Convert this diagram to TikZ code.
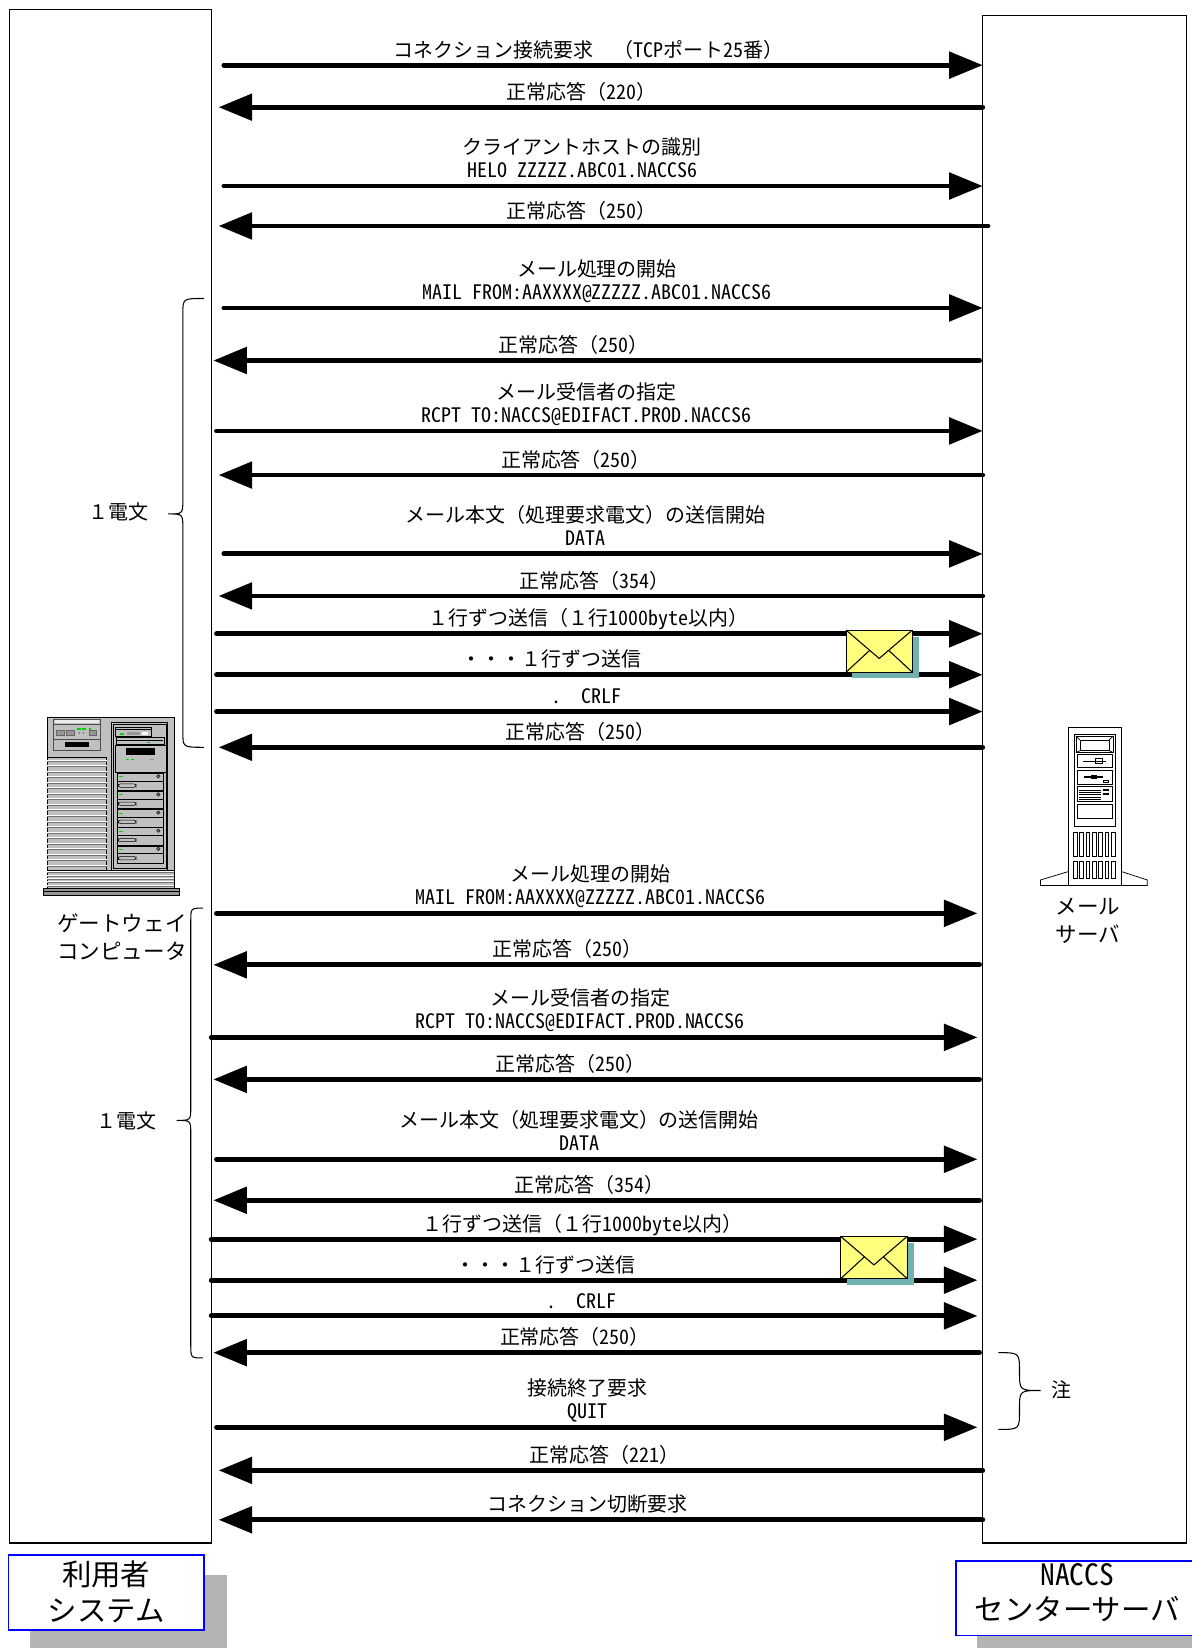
\documentclass[tikz,border=0pt]{standalone}
\usepackage{fontspec}
\setmainfont{Noto Sans CJK JP}
\newfontfamily\hwfont{Noto Sans CJK JP}[RawFeature=+hwid]
\usetikzlibrary{arrows.meta}
\newcommand\hw[1]{{\hwfont #1}}
\definecolor{srvgray}{RGB}{192,192,192}
\definecolor{srvdark}{RGB}{150,150,150}
\definecolor{envyellow}{RGB}{255,255,125}
\definecolor{envshadow}{RGB}{112,178,178}
\definecolor{lblshadow}{RGB}{180,180,180}
\definecolor{ledgreen}{RGB}{0,210,0}

% message with a one-line label: name, y, x from, x to, label x, text
\newcommand\msgA[6]{%
  \coordinate (#1a) at (#3,#2);
  \coordinate (#1b) at (#4,#2);
  \draw[msg] (#1a) -- (#1b);
  \node[lbl] (#1t) at (#5,#2-7.5) {#6};
}
% message with a two-line label
\newcommand\msgB[7]{%
  \coordinate (#1a) at (#3,#2);
  \coordinate (#1b) at (#4,#2);
  \draw[msg] (#1a) -- (#1b);
  \node[lbl] (#1t) at (#5,#2-30) {#6};
  \node[lbl] (#1u) at (#5,#2-8) {#7};
}
% curly brace: x of ends, x of stem, x of tip, y top, y tip, y bottom, radius
\newcommand\curly[7]{%
  \draw[brc] (#1,#4) .. controls (#2,#4) .. (#2,#4+#7) -- (#2,#5-#7)
    .. controls (#2,#5) .. (#3,#5) .. controls (#2,#5) .. (#2,#5+#7)
    -- (#2,#6-#7) .. controls (#2,#6) .. (#1,#6);
}
% envelope icon with its drop shadow, top-left corner given
\newcommand\envelope[2]{%
  \fill[envshadow] (#1+5.5,#2+6.5) rectangle (#1+69.5,#2+46);
  \filldraw[fill=envyellow, draw=black, line width=1pt] (#1,#2) rectangle (#1+63,#2+40);
  \draw[line width=1pt, line join=round] (#1,#2) -- (#1+31.5,#2+27) -- (#1+63,#2);
  \draw[line width=1pt] (#1,#2+40) -- (#1+22.5,#2+19.3);
  \draw[line width=1pt] (#1+63,#2+40) -- (#1+40.5,#2+19.3);
}

\begin{document}
\begin{tikzpicture}[x=1pt,y=-1pt,
  msg/.style={line width=4.6pt, line cap=round, -{Triangle[length=32pt,width=25pt]}},
  lbl/.style={anchor=base, inner sep=0pt, font=\fontsize{19}{22}\selectfont},
  lane/.style={draw, line width=1.2pt},
  brc/.style={line width=1pt},
  sidelbl/.style={inner sep=0pt, align=center, font=\fontsize{20.5}{27}\selectfont},
  boxlbl/.style={inner sep=0pt, align=center, font=\fontsize{28}{33.5}\selectfont},
  bluebox/.style={draw=blue, line width=1.4pt, fill=white},
  thin/.style={line width=0.5pt}]

\useasboundingbox (0,0) rectangle (1134,1568);
\fill[white] (0,0) rectangle (1134,1568);

% lanes
\draw[lane] (9,9) rectangle (201,1468);
\draw[lane] (935,15) rectangle (1129,1468);

% ---- connection and first message ----
\msgA{m1}{62}{213}{935}{560}{コネクション接続要求　（\hw{TCP}ポート\hw{25}番）}
\msgA{m2}{102}{935}{208}{553}{正常応答（\hw{220}）}
\msgB{m3}{177}{213}{935}{554}{クライアントホストの識別}{\hw{HELO ZZZZZ.ABC01.NACCS6}}
\msgA{m4}{215}{940}{208}{553}{正常応答（\hw{250}）}
\msgB{m5}{293}{213}{935}{568}{メール処理の開始}{\hw{MAIL FROM:AAXXXX@ZZZZZ.ABC01.NACCS6}}
\msgA{m6}{343}{932}{203}{546}{正常応答（\hw{250}）}
\msgB{m7}{410}{206}{935}{558}{メール受信者の指定}{\hw{RCPT TO:NACCS@EDIFACT.PROD.NACCS6}}
\msgA{m8}{452}{935}{208}{548}{正常応答（\hw{250}）}
\msgB{m9}{527}{213}{935}{557}{メール本文（処理要求電文）の送信開始}{\hw{DATA}}
\msgA{m10}{567}{935}{208}{566}{正常応答（\hw{354}）}
\msgA{m11}{603}{206}{935}{560}{１行ずつ送信（１行\hw{1000byte}以内）}
\msgA{m12}{642}{206}{935}{525}{・・・１行ずつ送信}
\msgA{m13}{677}{206}{935}{558}{\hw{.}　\hw{CRLF}}
\msgA{m14}{711}{935}{208}{552}{正常応答（\hw{250}）}
\envelope{805}{599.5}

% ---- second message and close ----
\msgB{n1}{869}{206}{930}{562}{メール処理の開始}{\hw{MAIL FROM:AAXXXX@ZZZZZ.ABC01.NACCS6}}
\msgA{n2}{918}{932}{203}{540}{正常応答（\hw{250}）}
\msgB{n3}{987}{201}{930}{552}{メール受信者の指定}{\hw{RCPT TO:NACCS@EDIFACT.PROD.NACCS6}}
\msgA{n4}{1027}{932}{203}{543}{正常応答（\hw{250}）}
\msgB{n5}{1103}{206}{930}{551}{メール本文（処理要求電文）の送信開始}{\hw{DATA}}
\msgA{n6}{1142}{932}{203}{561}{正常応答（\hw{354}）}
\msgA{n7}{1179}{201}{930}{554}{１行ずつ送信（１行\hw{1000byte}以内）}
\msgA{n8}{1218}{201}{930}{519}{・・・１行ずつ送信}
\msgA{n9}{1252}{201}{930}{553}{\hw{.}　\hw{CRLF}}
\msgA{n10}{1287}{932}{203}{547}{正常応答（\hw{250}）}
\msgB{n11}{1358}{206}{930}{559}{接続終了要求}{\hw{QUIT}}
\msgA{n12}{1399}{935}{208}{575}{正常応答（\hw{221}）}
\msgA{n13}{1446}{935}{208}{559}{コネクション切断要求}
\envelope{800}{1176.5}

% braces and their labels
\curly{194}{174}{160}{284}{489}{711}{14}
\node[lbl] (tel1) at (113,494) {１電文};
\curly{193}{181.5}{168}{864}{1066}{1292}{13}
\node[lbl] (tel2) at (120,1074) {１電文};
\curly{950}{970}{990}{1287}{1323}{1360}{18}
\node[lbl] (note) at (1010,1330) {注};

% ---- gateway computer ----
\begin{scope}[shift={(28.54,665.97)}, x=0.31713pt, y=-0.31713pt, thin]
  \filldraw[fill=srvdark] (40,565) rectangle (447,585);
  \draw (40,573) -- (447,573);
  \filldraw[fill=srvgray] (52,52) rectangle (433,565);
  % top-left unit
  \filldraw[fill=srvgray, draw=black!70] (70,58) rectangle (212,150);
  \draw[black!70] (70,72) -- (212,72);
  \draw[black!70] (70,118) -- (212,118);
  \fill[white!70!srvgray] (74,61) rectangle (208,69);
  \filldraw[fill=srvdark, draw=black!60] (80,92) rectangle (102,106);
  \filldraw[fill=srvdark, draw=black!60] (110,92) rectangle (132,106);
  \filldraw[fill=srvdark, draw=black!60] (178,92) rectangle (200,106);
  \fill[ledgreen] (140,85) rectangle (152,89);
  \fill[ledgreen] (157,85) rectangle (169,89);
  \fill[ledgreen] (176,85) rectangle (184,89);
  \fill (148,99) circle (1.6);
  \fill (160,99) circle (1.6);
  \fill (105,126) rectangle (178,140);
  % louvers
  \draw (52,172) -- (230,172) -- (230,512);
  \foreach \k in {0,...,19} {
    \draw[white] (52,180+16.6*\k) -- (230,180+16.6*\k);
    \draw[black!55] (52,183+16.6*\k) -- (230,183+16.6*\k);
  }
  \foreach \yy in {512,522,532,542,552} {
    \draw[white] (52,\yy+3) -- (433,\yy+3);
    \draw[black!55] (52,\yy+6) -- (433,\yy+6);
  }
  \draw (52,512) -- (433,512);
  % drive bays
  \filldraw[fill=srvgray] (245,68) rectangle (413,512);
  \draw (250,74) rectangle (408,506);
  \filldraw[fill=srvgray] (255,82) rectangle (365,110);
  \fill[ledgreen] (270,100) rectangle (282,104);
  \fill[srvdark] (292,95) rectangle (330,106);
  \fill[white] (335,96) rectangle (355,105);
  \draw (255,88) -- (365,88);
  \filldraw[fill=srvgray] (258,112) rectangle (402,134);
  \draw (262,122) -- (398,122);
  \fill[ledgreen] (350,126) rectangle (360,129);
  \filldraw[fill=srvgray] (255,136) rectangle (408,216);
  \fill (287,145) rectangle (375,166);
  \fill[ledgreen] (288,178) rectangle (298,181);
  \fill[ledgreen] (302,178) rectangle (312,181);
  \fill[srvdark] (360,178) rectangle (372,181);
  \foreach \k in {0,...,4} {
    \filldraw[fill=srvgray] (262,220+54.4*\k) rectangle (400,272+54.4*\k);
    \draw (262,243+54.4*\k) -- (400,243+54.4*\k);
    \fill[ledgreen] (268,229+54.4*\k) rectangle (278,232+54.4*\k);
    \filldraw[fill=srvdark] (385,229+54.4*\k) circle (5);
    \draw[rounded corners=2pt] (265,252+54.4*\k) rectangle (318,262+54.4*\k);
  }
\end{scope}
\node[sidelbl] (gw) at (116,891.5) {ゲートウェイ\\コンピュータ};

% ---- mail server ----
\begin{scope}[shift={(970.41,675.49)}, x=0.31713pt, y=-0.31713pt, line width=0.7pt]
  \filldraw[fill=white] (62,527) -- (62,510) -- (145,485) -- (305,485) -- (382,510) -- (382,527) -- cycle;
  \filldraw[fill=white] (145,52) rectangle (305,527);
  \draw (162,72) rectangle (287,348);
  \draw (168,78) rectangle (280,128);
  \draw (180,90) rectangle (268,122);
  \draw (168,78) -- (180,90) (280,78) -- (268,90) (168,128) -- (180,122) (280,128) -- (268,122);
  \draw (172,134) rectangle (276,172);
  \draw (190,153) -- (258,153);
  \draw (226,145) rectangle (246,161);
  \draw (172,180) rectangle (276,224);
  \draw[line width=1.6pt] (192,202) -- (248,202);
  \fill (212,196) rectangle (232,208);
  \draw (250,210) rectangle (266,216);
  \draw (172,230) rectangle (276,274);
  \foreach \yy in {240,247,254,261,268} \draw (178,\yy) -- (244,\yy);
  \fill (250,236) rectangle (266,242);
  \fill (250,248) rectangle (266,254);
  \draw (172,282) rectangle (276,326);
  \foreach \i in {0,...,6} {
    \draw (160+19*\i,367) rectangle (171+19*\i,440);
    \draw (160+19*\i,455) rectangle (171+19*\i,505);
  }
\end{scope}
\node[sidelbl] (ms) at (1035,876) {メール\\サーバ};

% ---- system labels ----
\fill[lblshadow] (28.5,1499) rectangle (215.7,1570);
\draw[bluebox] (8,1479.5) rectangle (194,1551);
\node[boxlbl] (usr) at (101,1514.5) {利用者\\システム};
\fill[lblshadow] (930,1505) rectangle (1150,1580);
\draw[bluebox] (909.5,1485) rectangle (1150,1556);
\node[boxlbl] (ctr) at (1025,1515) {\hw{NACCS}\\センターサーバ};

\end{tikzpicture}
\end{document}
